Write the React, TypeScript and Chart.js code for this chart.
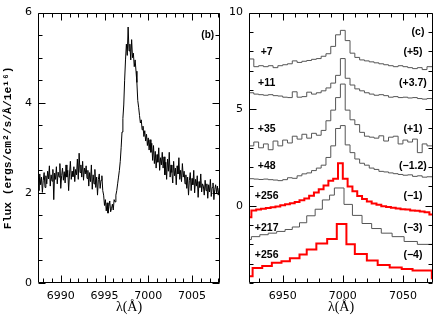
import { useEffect, useRef } from "react";
import { Chart, registerables } from "chart.js";
Chart.register(...registerables);

// ---------- Panel (b): observed line profile ----------
const LEFT_WAVE_START = 6987.4;
const LEFT_WAVE_STEP = 0.1;
const LEFT_FLUX = [
  2.30, 2.05, 2.42, 2.18, 2.35, 2.01, 2.28, 2.45, 2.12, 2.38,
  2.20, 2.48, 2.31, 2.60, 2.15, 2.40, 2.26, 2.52, 1.85, 2.44,
  2.30, 2.58, 2.20, 2.46, 2.35, 2.65, 2.10, 2.38, 2.55, 2.28,
  2.47, 2.22, 2.62, 2.35, 2.50, 2.05, 2.42, 2.70, 2.30, 2.48,
  2.36, 2.58, 2.25, 2.52,
  2.40, 2.75, 2.30, 2.88, 2.45, 2.62, 2.35, 2.70, 2.28, 2.55, 2.42, 2.60,
  2.32, 2.50, 2.15, 2.45, 2.25, 2.62, 2.08, 2.40, 2.20, 2.52,
  2.12, 2.35, 1.95, 2.30, 2.42, 2.10, 2.28, 2.38, 2.05,
  1.95, 1.72, 1.85, 1.60, 1.78, 1.55, 1.70, 1.82, 1.58, 1.65,
  1.75, 1.62, 1.85, 1.80, 1.95,
  2.05, 2.20, 2.35, 2.50, 2.70, 3.00, 3.35, 3.65, 3.95,
  4.50, 4.95, 5.30, 5.05, 5.68, 5.15, 5.30, 4.95, 5.40, 5.00,
  5.10, 4.80, 4.95, 4.70, 4.45, 4.05, 3.90, 3.72,
  3.55, 3.62, 3.40, 3.48, 3.25, 3.38, 3.15, 3.30, 3.05, 3.22,
  2.95, 3.18, 2.90, 3.10,
  2.72, 3.05, 2.65, 2.92, 2.55, 2.85, 2.68, 3.00, 2.50, 2.78,
  2.62, 2.90,
  2.55, 2.80, 2.40, 2.68, 2.30, 2.75, 2.48, 2.90, 2.35, 2.62,
  2.45, 2.22, 2.70, 2.38, 2.55, 2.18, 2.60, 2.42, 2.78, 2.30,
  2.50, 2.25, 2.65, 2.35, 2.48, 2.20,
  2.40, 2.10, 2.35, 1.95, 2.28, 2.45, 2.05, 2.32, 2.18, 2.50,
  2.00, 2.30, 2.15, 2.38, 1.90, 2.25, 2.12, 2.42, 2.02, 2.20,
  2.15, 1.95, 2.28, 2.05, 2.20, 1.88, 2.18, 2.02, 2.30, 1.92,
  2.12, 2.22, 1.85, 2.08, 2.18, 2.00, 2.15, 1.95, 2.10, 2.05,
];
const LEFT_X_MIN = 6987.4;
const LEFT_X_MAX = 7008.2;
const LEFT_Y_MIN = 0;
const LEFT_Y_MAX = 6;
const LEFT_X_TICKS = [6990, 6995, 7000, 7005];
const LEFT_Y_TICKS = [0, 2, 4, 6];

// ---------- Panel (c): binned spectra, offset ----------
const RIGHT_X_MIN = 6922;
const RIGHT_X_MAX = 7075;
const RIGHT_Y_MIN = -4;
const RIGHT_Y_MAX = 10;
const RIGHT_X_TICKS = [6950, 7000, 7050];
const RIGHT_Y_TICKS = [0, 5, 10];

const BIN_WIDTH = 4;
const BIN_START_A = 6922; // first bin edge for the +7, +11, +35, +48 spectra
const SPEC_P7 = [7.6, 7.2, 7.25, 7.2, 7.25, 7.15, 7.25, 7.3, 7.35, 7.5, 7.42, 7.48, 7.52, 7.58, 7.62, 7.74, 7.87, 8.25, 8.85, 9.08, 8.55, 7.9, 7.68, 7.55, 7.5, 7.45, 7.4, 7.35, 7.3, 7.25, 7.2, 7.25, 7.2, 7.15, 7.1, 7.15, 7.05, 7.2];
const SPEC_P11 = [5.85, 5.78, 5.75, 5.72, 5.75, 5.7, 5.68, 5.62, 5.6, 5.9, 5.62, 5.65, 5.88, 5.78, 5.85, 5.95, 6.1, 6.35, 6.75, 7.62, 6.6, 6.25, 6.05, 5.95, 5.85, 5.78, 5.72, 5.75, 5.7, 5.62, 5.65, 5.6, 5.62, 5.58, 5.6, 5.55, 5.52, 5.55];
const SPEC_P35 = [3.1, 3.3, 3.0, 3.2, 2.9, 3.35, 3.1, 3.4, 3.25, 3.6, 3.45, 3.7, 3.5, 3.75, 3.65, 3.9, 4.4, 4.95, 5.6, 6.3, 4.95, 4.45, 4.2, 3.8, 3.6, 3.55, 3.5, 3.62, 3.35, 3.55, 3.6, 3.2, 3.4, 3.3, 3.45, 2.75, 3.2, 3.1];
const SPEC_P48 = [1.4, 1.38, 1.36, 1.38, 1.35, 1.33, 1.3, 1.35, 1.45, 1.42, 1.55, 1.65, 1.7, 1.82, 1.95, 2.1, 2.5, 3.1, 4.0, 4.15, 3.15, 2.75, 2.42, 2.2, 2.1, 1.95, 1.88, 1.78, 1.75, 1.7, 1.66, 1.62, 1.58, 1.6, 1.52, 1.55, 1.48, 1.5];
const BIN_START_E = 6920; // first bin edge for the upper +256 spectrum
const SPEC_P256A = [-0.6, -0.25, -0.2, -0.16, -0.12, -0.08, -0.04, 0.02, 0.08, 0.13, 0.2, 0.28, 0.38, 0.52, 0.68, 0.85, 1.05, 1.3, 1.4, 2.2, 1.4, 1.0, 0.75, 0.5, 0.35, 0.22, 0.12, 0.05, -0.02, -0.06, -0.1, -0.14, -0.18, -0.2, -0.24, -0.26, -0.3, -0.34, -0.45];
const SPEC_P217_EDGES = [6920, 6924, 6931, 6938, 6945, 6952, 6958, 6964, 6970, 6977, 6983, 6989, 6993, 7001, 7008, 7016, 7024, 7032, 7041, 7051, 7062, 7078];
const SPEC_P217 = [-1.75, -1.6, -1.5, -1.42, -1.33, -1.23, -1.1, -0.88, -0.52, -0.18, 0.3, 0.55, 0.92, 0.07, -0.5, -0.92, -1.18, -1.42, -1.6, -1.85, -2.0];
const SPEC_P256B_EDGES = [6920, 6925, 6933, 6941, 6949, 6956, 6964, 6970, 6978, 6987, 6995, 7003, 7010, 7020, 7029, 7039, 7049, 7058, 7074, 7078];
const SPEC_P256B = [-3.65, -3.22, -3.12, -2.95, -2.87, -2.72, -2.52, -2.27, -1.95, -1.72, -0.94, -2.0, -2.5, -2.83, -3.07, -3.2, -3.27, -3.35, -3.75];

const LEFT_LABELS = ["+7", "+11", "+35", "+48", "+256", "+217", "+256"];
const RIGHT_LABELS = ["(+5)", "(+3.7)", "(+1)", "(\u22121.2)", "(\u22121)", "(\u22123)", "(\u22124)"];
const LABEL_Y = [7.96, 6.34, 3.98, 2.06, 0.5, -1.16, -2.57];
const LABEL_X_LEFT = 6936.7;
const LABEL_X_RIGHT = 7058.3;

const GRAY = "#555555";
const RED = "#ff0000";

type Pt = { x: number; y: number };

// each value spans from its own edge to the next edge
function uniformBins(start: number, width: number, vals: number[], end: number): Pt[] {
  const pts: Pt[] = vals.map((v, i) => ({ x: start + i * width, y: v }));
  pts.push({ x: end, y: vals[vals.length - 1] });
  return pts;
}
function edgeBins(edges: number[], vals: number[]): Pt[] {
  const pts: Pt[] = vals.map((v, i) => ({ x: edges[i], y: v }));
  pts.push({ x: edges[edges.length - 1], y: vals[vals.length - 1] });
  return pts;
}

const frameTicks = {
  id: "frameTicks",
  afterDraw(chart: any, _a: any, opts: any) {
    const { ctx, chartArea: a, scales } = chart;
    const xs = scales.x;
    const ys = scales.y;
    const L = Math.round(a.left) + 0.5;
    const R = Math.round(a.right) - 0.5;
    const T = Math.round(a.top) + 0.5;
    const B = Math.round(a.bottom) - 0.5;
    ctx.save();
    ctx.strokeStyle = "#000";
    ctx.lineWidth = 1;
    ctx.beginPath();
    ctx.rect(L, T, R - L, B - T);
    const gen = (min: number, max: number, step: number) => {
      const out: number[] = [];
      for (let k = Math.ceil(min / step - 1e-9); k * step <= max + 1e-9; k++) out.push(k * step);
      return out;
    };
    const isMaj = (v: number, step: number) => Math.abs(v / step - Math.round(v / step)) < 1e-6;
    for (const v of gen(xs.min, xs.max, opts.xMinor)) {
      const p = Math.round(xs.getPixelForValue(v)) + 0.5;
      const len = isMaj(v, opts.xMajor) ? opts.majorLen : opts.minorLen;
      ctx.moveTo(p, B); ctx.lineTo(p, B - len);
      ctx.moveTo(p, T); ctx.lineTo(p, T + len);
    }
    for (const v of gen(ys.min, ys.max, opts.yMinor)) {
      const p = Math.round(ys.getPixelForValue(v)) + 0.5;
      const len = isMaj(v, opts.yMajor) ? opts.majorLen : opts.minorLen;
      ctx.moveTo(L, p); ctx.lineTo(L + len, p);
      ctx.moveTo(R, p); ctx.lineTo(R - len, p);
    }
    ctx.stroke();
    ctx.restore();
  },
};

const textLabels = {
  id: "textLabels",
  afterDatasetsDraw(chart: any, _a: any, opts: any) {
    const { ctx, scales } = chart;
    ctx.save();
    ctx.fillStyle = "#000";
    ctx.font = opts.font;
    ctx.textBaseline = "middle";
    for (const t of opts.items || []) {
      ctx.textAlign = t.align || "center";
      ctx.fillText(t.text, scales.x.getPixelForValue(t.x), scales.y.getPixelForValue(t.y));
    }
    ctx.restore();
  },
};

const TICK_FONT = { family: "DejaVu Sans", size: 11 };

function axisX(min: number, max: number, ticks: number[], title: boolean) {
  return {
    type: "linear" as const,
    min,
    max,
    afterBuildTicks: (s: any) => { s.ticks = ticks.map((v) => ({ value: v })); },
    afterFit: (s: any) => { s.height = 33; },
    grid: { display: false, drawTicks: false },
    border: { display: false },
    ticks: { autoSkip: false, maxRotation: 0, padding: 7, color: "#000", font: TICK_FONT, callback: (v: any) => String(v) },
    title: { display: title, text: "\u03bb(\u00c5)", color: "#000", font: { family: "Liberation Serif", size: 14 }, padding: { top: 0, bottom: 0 } },
  };
}
function axisY(min: number, max: number, ticks: number[], width: number, title: string | null) {
  return {
    min,
    max,
    afterBuildTicks: (s: any) => { s.ticks = ticks.map((v) => ({ value: v })); },
    afterFit: (s: any) => { s.width = width; },
    grid: { display: false, drawTicks: false },
    border: { display: false },
    ticks: { autoSkip: false, padding: 6, color: "#000", font: TICK_FONT, callback: (v: any) => String(v) },
    title: {
      display: !!title,
      text: title || "",
      color: "#000",
      font: { family: "Liberation Mono", size: 11.3, weight: "bold" as const },
      padding: { top: 1, bottom: 0 },
    },
  };
}

export default function App() {
  const leftRef = useRef<HTMLCanvasElement | null>(null);
  const rightRef = useRef<HTMLCanvasElement | null>(null);

  useEffect(() => {
    const leftData: Pt[] = LEFT_FLUX.map((y, i) => ({ x: +(LEFT_WAVE_START + i * LEFT_WAVE_STEP).toFixed(2), y }));
    const left = new Chart(leftRef.current as HTMLCanvasElement, {
      type: "line",
      data: {
        datasets: [
          { data: leftData, borderColor: "#000", borderWidth: 1, pointRadius: 0, tension: 0, fill: false },
        ],
      },
      options: {
        responsive: false,
        animation: false,
        events: [],
        layout: { padding: { top: 5, right: 4, left: 0, bottom: 0 } },
        plugins: {
          legend: { display: false },
          tooltip: { enabled: false },
          frameTicks: { xMinor: 1, xMajor: 5, yMinor: 0.5, yMajor: 2, majorLen: 7, minorLen: 4 },
          textLabels: {
            font: "bold 10px 'Liberation Sans'",
            items: [{ text: "(b)", x: 7006.8, y: 5.5, align: "center" }],
          },
        } as any,
        scales: {
          x: axisX(LEFT_X_MIN, LEFT_X_MAX, LEFT_X_TICKS, true),
          y: axisY(LEFT_Y_MIN, LEFT_Y_MAX, LEFT_Y_TICKS, 38, "Flux (ergs/cm\u00b2/s/\u00c5/1e\u00b9\u2076)"),
        } as any,
      },
      plugins: [frameTicks, textLabels],
    });

    const mk = (data: Pt[], color: string, width: number) => ({
      data,
      borderColor: color,
      borderWidth: width,
      pointRadius: 0,
      stepped: "before" as const,
      fill: false,
      borderJoinStyle: "miter" as const,
    });
    const items: any[] = [];
    LEFT_LABELS.forEach((t, i) => items.push({ text: t, x: LABEL_X_LEFT, y: LABEL_Y[i], align: "center" }));
    RIGHT_LABELS.forEach((t, i) => items.push({ text: t, x: LABEL_X_RIGHT, y: LABEL_Y[i], align: "center" }));
    items.push({ text: "(c)", x: 7062.5, y: 9.0, align: "center" });

    const right = new Chart(rightRef.current as HTMLCanvasElement, {
      type: "line",
      data: {
        datasets: [
          mk(uniformBins(BIN_START_A, BIN_WIDTH, SPEC_P7, 7078), GRAY, 1),
          mk(uniformBins(BIN_START_A, BIN_WIDTH, SPEC_P11, 7078), GRAY, 1),
          mk(uniformBins(BIN_START_A, BIN_WIDTH, SPEC_P35, 7078), GRAY, 1),
          mk(uniformBins(BIN_START_A, BIN_WIDTH, SPEC_P48, 7078), GRAY, 1),
          mk(uniformBins(BIN_START_E, BIN_WIDTH, SPEC_P256A, 7078), RED, 2),
          mk(edgeBins(SPEC_P217_EDGES, SPEC_P217), GRAY, 1),
          mk(edgeBins(SPEC_P256B_EDGES, SPEC_P256B), RED, 2),
        ],
      },
      options: {
        responsive: false,
        animation: false,
        events: [],
        layout: { padding: { top: 5, right: 3, left: 0, bottom: 0 } },
        plugins: {
          legend: { display: false },
          tooltip: { enabled: false },
          frameTicks: { xMinor: 10, xMajor: 50, yMinor: 1, yMajor: 5, majorLen: 7, minorLen: 4 },
          textLabels: { font: "bold 10.5px 'Liberation Sans'", items },
        } as any,
        scales: {
          x: axisX(RIGHT_X_MIN, RIGHT_X_MAX, RIGHT_X_TICKS, true),
          y: axisY(RIGHT_Y_MIN, RIGHT_Y_MAX, RIGHT_Y_TICKS, 25, null),
        } as any,
      },
      plugins: [frameTicks, textLabels],
    });

    return () => {
      left.destroy();
      right.destroy();
    };
  }, []);

  return (
    <div style={{ position: "fixed", left: 0, top: 0, width: 436, height: 316, background: "#fff" }}>
      <canvas ref={leftRef} width={224} height={316} style={{ position: "absolute", left: 0, top: 0 }} />
      <canvas ref={rightRef} width={212} height={316} style={{ position: "absolute", left: 224, top: 0 }} />
    </div>
  );
}
